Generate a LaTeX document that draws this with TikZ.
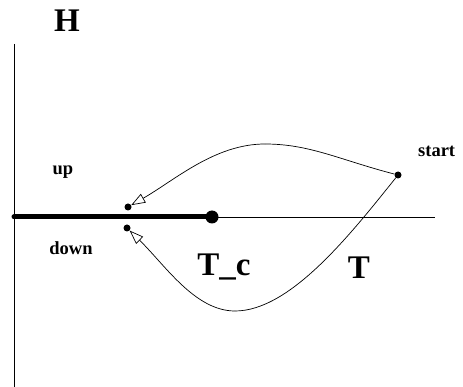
\documentclass[tikz,border=0pt]{standalone}
\usepackage{fontspec}
\setmainfont{Liberation Serif}
\usetikzlibrary{arrows.meta,positioning}
\tikzset{
	>={Triangle[open,length=14pt,width=10pt]},%
	dot/.style={%
			circle,%
			fill=black,%
			inner sep=0,%
			minimum size=7pt},%
	bigdot/.style={%
			circle,%
			fill=black,%
			inner sep=0,%
			minimum size=13pt},%
	biglabel/.style={font={\fontsize{33}{33}\selectfont\bfseries}},%
	smalllabel/.style={font={\fontsize{18.5}{18.5}\selectfont\bfseries}},%
	loopline/.style={line width=0.7pt},%
}

\begin{document}
\begin{tikzpicture}[x=1pt, y=-1pt]%
	\useasboundingbox (0,0) rectangle (463,387);

	% axes
	\coordinate (origin) at (14,217);
	\coordinate (htop) at (14,44);
	\coordinate (hbot) at (14,387);
	\coordinate (tend) at (435,217);

	\node[bigdot] (tc) at (212,217) {};
	\node[dot] (start) at (398,175) {};
	\node[dot] (up) at (128,207) {};
	\node[dot] (down) at (127,228) {};

	\node[biglabel] (hlbl) at (67,21) {H};
	\node[biglabel] (tclbl) at (224,267) {T\_c};
	\node[biglabel] (tlbl) at (359,268) {T};
	\node[smalllabel] (startlbl) [above right=12pt and 14pt of start] {start};
	\node[smalllabel] (uplbl) at (63,172) {up};
	\node[smalllabel] (downlbl) at (71,248) {down};

	\draw[line width=0.9pt] (htop) -- (hbot);
	\draw[line width=0.9pt] (origin) -- (tend);
	\draw[line width=5pt, line cap=round] (origin) -- (tc.center);

	% the two paths from start
	\coordinate (uptop) at (265,144);
	\coordinate (downbot) at (235,311);
	\draw[loopline] (start) .. controls (340,160) and (310,144) .. (uptop);
	\draw[loopline, ->] (uptop) .. controls (215,144) and (175,180) .. (up);
	\draw[loopline] (start) .. controls (350,235) and (290,311) .. (downbot);
	\draw[loopline, ->] (downbot) .. controls (195,311) and (165,265) .. (down);
\end{tikzpicture}
\end{document}
